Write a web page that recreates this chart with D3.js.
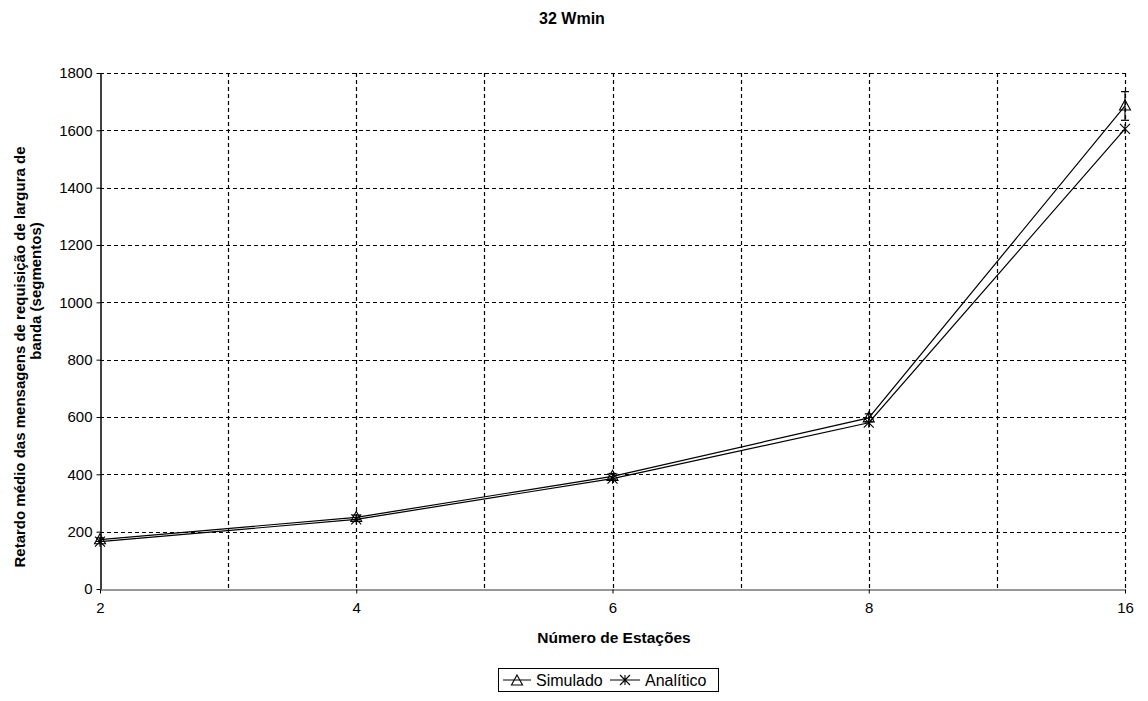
<!DOCTYPE html>
<html>
<head>
<meta charset="utf-8">
<script src="https://cdn.jsdelivr.net/npm/d3@7"></script>
<style>
  html, body { margin: 0; padding: 0; background: #fff; }
  svg { display: block; font-family: "Liberation Sans", Arial, sans-serif; }
</style>
</head>
<body>
<svg id="chart" width="1148" height="701"></svg>
<script>
// Number of stations (categorical axis)
const estacoes = ["2", "4", "6", "8", "16"];
// Mean delay of bandwidth-request messages (segments)
const simulado = [172, 250, 393, 597, 1685];
const simuladoErro = [6, 8, 10, 14, 50];
const analitico = [165, 243, 385, 580, 1605];
const yTicks = [0, 200, 400, 600, 800, 1000, 1200, 1400, 1600, 1800];

const svg = d3.select("#chart");
const m = { left: 100, right: 1125, top: 73, bottom: 589 };
const FONT = "Liberation Sans, Arial, sans-serif";

const x = d3.scalePoint().domain(estacoes).range([m.left, m.right]);
const y = d3.scaleLinear().domain([0, 1800]).range([m.bottom, m.top]);

// Title
svg.append("text").attr("x", 572).attr("y", 24).attr("text-anchor", "middle")
  .attr("font-size", 16).attr("font-weight", "bold").text("32 Wmin");

// Horizontal gridlines
const grid = svg.append("g").attr("stroke", "#000").attr("stroke-width", 1.2)
  .attr("stroke-dasharray", "4,3").attr("fill", "none");
yTicks.filter(d => d > 0).forEach(d => {
  grid.append("line").attr("x1", m.left).attr("x2", m.right)
    .attr("y1", Math.round(y(d)) + 0.5).attr("y2", Math.round(y(d)) + 0.5);
});
// Vertical gridlines at categories and halfway between them
const vx = [];
estacoes.forEach((c, i) => {
  if (i > 0) {
    vx.push((x(estacoes[i - 1]) + x(c)) / 2);
    vx.push(x(c));
  }
});
vx.forEach(px => {
  grid.append("line").attr("x1", Math.round(px) + 0.5).attr("x2", Math.round(px) + 0.5)
    .attr("y1", m.top).attr("y2", m.bottom);
});

// Y axis
const yAxis = svg.append("g").attr("transform", `translate(${m.left + 0.5},0)`)
  .call(d3.axisLeft(y).tickValues(yTicks).tickSize(4).tickSizeOuter(0).tickFormat(d3.format("d")));
yAxis.select(".domain").attr("stroke", "#000").attr("stroke-width", 1.5);
yAxis.selectAll(".tick line").attr("stroke", "#000");
yAxis.selectAll("text").attr("font-size", 15).attr("font-family", FONT)
  .attr("fill", "#000").attr("x", -8);

// X axis
const xAxis = svg.append("g").attr("transform", `translate(0,${m.bottom + 0.5})`)
  .call(d3.axisBottom(x).tickSize(4).tickSizeOuter(0));
xAxis.select(".domain").attr("stroke", "#333").attr("stroke-width", 1.2);
xAxis.selectAll(".tick line").attr("stroke", "#000");
xAxis.selectAll("text").attr("font-size", 15).attr("font-family", FONT)
  .attr("fill", "#000").attr("y", 10).attr("dy", "0.9em");

// Axis titles
svg.append("text").attr("x", 614).attr("y", 643).attr("text-anchor", "middle")
  .attr("font-size", 15.5).attr("font-weight", "bold").text("Número de Estações");
svg.append("text").attr("transform", "translate(25,357) rotate(-90)")
  .attr("text-anchor", "middle").attr("font-size", 15).attr("font-weight", "bold")
  .text("Retardo médio das mensagens de requisição de largura de");
svg.append("text").attr("transform", "translate(41,291) rotate(-90)")
  .attr("text-anchor", "middle").attr("font-size", 15).attr("font-weight", "bold")
  .text("banda (segmentos)");

// Series lines
const line = d3.line().x(d => x(d[0])).y(d => y(d[1]));
const simPts = estacoes.map((c, i) => [c, simulado[i]]);
const anaPts = estacoes.map((c, i) => [c, analitico[i]]);
svg.append("path").datum(anaPts).attr("d", line).attr("fill", "none")
  .attr("stroke", "#000").attr("stroke-width", 1.2);
svg.append("path").datum(simPts).attr("d", line).attr("fill", "none")
  .attr("stroke", "#000").attr("stroke-width", 1.2);

// Error bars on simulated values
const eb = svg.append("g").attr("stroke", "#000").attr("stroke-width", 1.2);
estacoes.forEach((c, i) => {
  const px = x(c), hi = y(simulado[i] + simuladoErro[i]), lo = y(simulado[i] - simuladoErro[i]);
  eb.append("line").attr("x1", px).attr("x2", px).attr("y1", hi).attr("y2", lo);
  eb.append("line").attr("x1", px - 4).attr("x2", px + 4).attr("y1", hi).attr("y2", hi);
  eb.append("line").attr("x1", px - 4).attr("x2", px + 4).attr("y1", lo).attr("y2", lo);
});

// Marker shapes
function triangle(g, cx, cy) {
  g.append("path").attr("d", `M${cx},${cy - 6}L${cx + 5.5},${cy + 4}L${cx - 5.5},${cy + 4}Z`)
    .attr("fill", "none").attr("stroke", "#000").attr("stroke-width", 1.1);
}
function asterisk(g, cx, cy) {
  const s = 5;
  g.append("path").attr("d",
    `M${cx - s},${cy - s}L${cx + s},${cy + s}M${cx - s},${cy + s}L${cx + s},${cy - s}M${cx},${cy - s}L${cx},${cy + s}`)
    .attr("fill", "none").attr("stroke", "#000").attr("stroke-width", 1.1);
}
const mk = svg.append("g");
simPts.forEach(d => triangle(mk, x(d[0]), y(d[1])));
anaPts.forEach(d => asterisk(mk, x(d[0]), y(d[1])));

// Legend
const lg = svg.append("g");
lg.append("rect").attr("x", 498.5).attr("y", 668.5).attr("width", 220).attr("height", 23)
  .attr("fill", "#fff").attr("stroke", "#000").attr("stroke-width", 1);
lg.append("line").attr("x1", 503).attr("x2", 531).attr("y1", 680).attr("y2", 680).attr("stroke", "#000");
triangle(lg, 517, 681);
lg.append("text").attr("x", 536).attr("y", 686).attr("font-size", 16).text("Simulado");
lg.append("line").attr("x1", 610).attr("x2", 640).attr("y1", 680).attr("y2", 680).attr("stroke", "#000");
asterisk(lg, 625, 680);
lg.append("text").attr("x", 645).attr("y", 686).attr("font-size", 16).text("Analítico");
</script>
</body>
</html>
